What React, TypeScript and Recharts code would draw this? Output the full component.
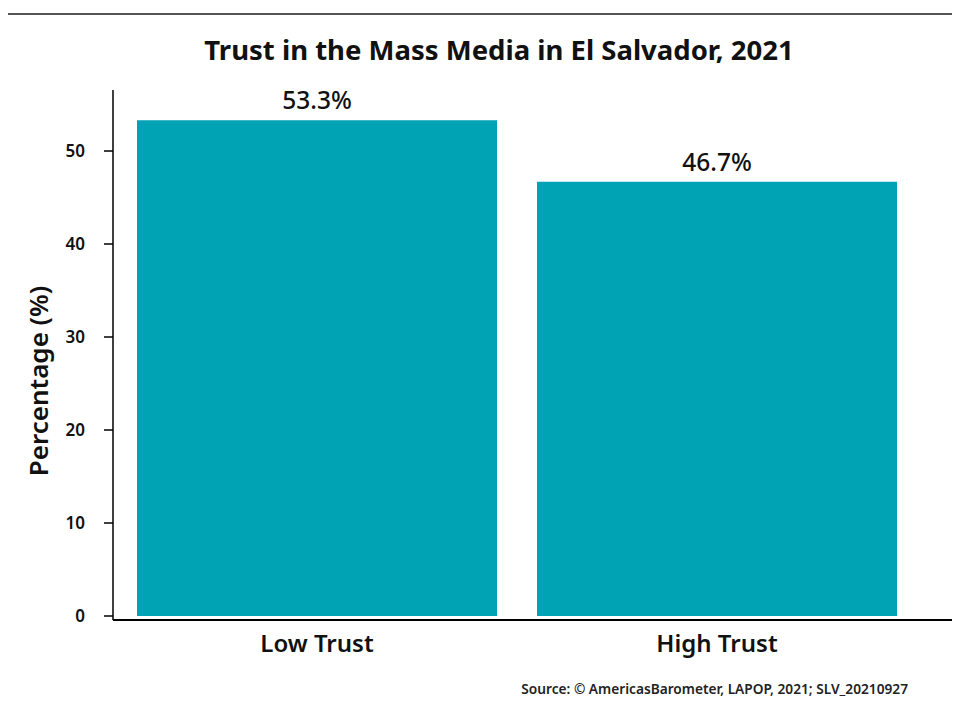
import React from 'react';
import { BarChart, Bar, XAxis, YAxis, LabelList } from 'recharts';

const categories = ['Low Trust', 'High Trust'];
const percentages = [53.3, 46.7];
const yTicks = [0, 10, 20, 30, 40, 50];

const chartData = categories.map((name, i) => ({ name, value: percentages[i] }));

const FONT = '"Noto Sans", "Open Sans", sans-serif';

const App: React.FC = () => {
  return (
    <div style={{ position: 'absolute', left: 0, top: 0, width: 961, height: 717, background: '#fff', fontFamily: FONT }}>
      {/* top rule */}
      <div style={{ position: 'absolute', left: 8, top: 13, width: 944, height: 1.5, background: '#555' }} />
      <div
        style={{
          position: 'absolute', left: 0, top: 32, width: 998, textAlign: 'center',
          fontSize: 27.5, fontWeight: 700, color: '#111', lineHeight: '36px',
        }}
      >
        Trust in the Mass Media in El Salvador, 2021
      </div>
      <BarChart
        width={961}
        height={717}
        data={chartData}
        margin={{ top: 90, right: 9, left: 0, bottom: 47 }}
        style={{ position: 'absolute', left: 0, top: 0 }}
      >
        <XAxis
          dataKey="name"
          height={50}
          padding={{ left: 4, right: 35 }}
          tickLine={false}
          tickSize={0}
          tickMargin={15}
          axisLine={{ stroke: '#000', strokeWidth: 2 }}
          tick={{ fill: '#111', fontSize: 24, fontWeight: 600, fontFamily: FONT }}
        />
        <YAxis
          width={113}
          domain={[0, 56.56]}
          ticks={yTicks}
          padding={{ top: 0, bottom: 4 }}
          tickSize={9}
          tickMargin={19}
          axisLine={{ stroke: '#000', strokeWidth: 1.5 }}
          tickLine={{ stroke: '#000', strokeWidth: 1.5 }}
          tick={{ fill: '#111', fontSize: 17, fontWeight: 600, fontFamily: FONT }}
        />
        <Bar dataKey="value" fill="#00A3B4" barSize={360} isAnimationActive={false}>
          <LabelList
            dataKey="value"
            position="top"
            offset={11}
            formatter={(v: any) => `${Number(v).toFixed(1)}%`}
            style={{ fill: '#111', fontSize: 24.5, fontWeight: 500, fontFamily: FONT }}
          />
        </Bar>
      </BarChart>
      {/* y axis title */}
      <div
        style={{
          position: 'absolute', left: 38, top: 381, transform: 'translate(-50%, -50%) rotate(-90deg)',
          fontSize: 26, fontWeight: 600, color: '#111', whiteSpace: 'nowrap', lineHeight: '30px',
        }}
      >
        Percentage (%)
      </div>
      <div
        style={{
          position: 'absolute', right: 961 - 908, top: 679, fontSize: 13.7, fontWeight: 600,
          color: '#222', whiteSpace: 'nowrap',
        }}
      >
        Source: © AmericasBarometer, LAPOP, 2021; SLV_20210927
      </div>
    </div>
  );
};

export default App;
